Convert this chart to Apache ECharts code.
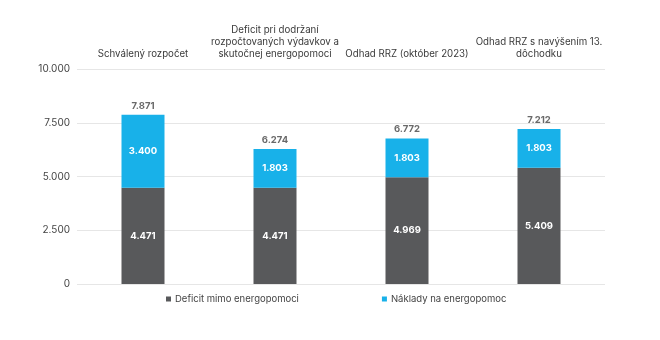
<!DOCTYPE html>
<html>
<head>
<meta charset="utf-8">
<script src="https://cdn.jsdelivr.net/npm/echarts@6/dist/echarts.min.js"></script>
<style>html,body{margin:0;padding:0;background:#fff}#c{width:660px;height:340px}</style>
</head>
<body>
<div id="c"></div>
<script>
var categories = [
  "Schválený rozpočet",
  "Deficit pri dodržaní\nrozpočtovaných výdavkov a\nskutočnej energopomoci",
  "Odhad RRZ (október 2023)",
  "Odhad RRZ s navýšením 13.\ndôchodku"
];
var deficit = [4471, 4471, 4969, 5409];
var energy = [3400, 1803, 1803, 1803];
var totals = [7871, 6274, 6772, 7212];
var yTicks = [0, 2500, 5000, 7500, 10000];

function fmt(v) {
  return String(Math.round(v)).replace(/\B(?=(\d{3})+(?!\d))/g, '.');
}
var FONT = 'Inter';
var chart = echarts.init(document.getElementById('c'));
chart.setOption({
  animation: false,
  textStyle: { fontFamily: FONT },
  grid: { left: 77, right: 55, top: 69, bottom: 56, containLabel: false },
  legend: {
    bottom: 31,
    left: 161,
    itemWidth: 5, itemHeight: 5, itemGap: 83,
    icon: 'rect',
    textStyle: { fontFamily: FONT, fontSize: 9.5, color: '#444', padding: [0, 0, 0, -1] },
    data: ['Deficit mimo energopomoci', 'Náklady na energopomoc']
  },
  xAxis: {
    type: 'category',
    position: 'top',
    data: categories,
    axisLine: { show: false },
    axisTick: { show: false },
    axisLabel: { fontFamily: FONT, fontSize: 9.7, color: '#3a3a3a', lineHeight: 12, margin: 9, interval: 0 }
  },
  yAxis: {
    type: 'value',
    min: 0, max: 10000, interval: 2500,
    axisLabel: { fontFamily: FONT, fontSize: 10, color: '#444', margin: 7,
      formatter: function (v) { return yTicks.indexOf(v) >= 0 ? fmt(v) : ''; } },
    splitLine: { lineStyle: { color: '#e6e6e6', width: 1 } },
    axisLine: { show: false }, axisTick: { show: false }
  },
  series: [
    {
      name: 'Deficit mimo energopomoci', type: 'bar', stack: 's', data: deficit,
      barWidth: 43,
      itemStyle: { color: '#58595b' },
      label: { show: true, position: 'inside', color: '#fff', fontSize: 9.5, fontWeight: 'bold', fontFamily: FONT, formatter: function (p) { return fmt(p.value); } }
    },
    {
      name: 'Náklady na energopomoc', type: 'bar', stack: 's', data: energy,
      barWidth: 43,
      itemStyle: { color: '#18b1e9' },
      label: { show: true, position: 'inside', color: '#fff', fontSize: 9.5, fontWeight: 'bold', fontFamily: FONT, formatter: function (p) { return fmt(p.value); } }
    },
    {
      name: 'Spolu', type: 'scatter', data: totals, symbolSize: 0,
      label: { show: true, position: 'top', distance: 4, color: '#444', fontSize: 9.5, fontWeight: 'bold', fontFamily: FONT, formatter: function (p) { return fmt(p.value); } },
      silent: true
    }
  ]
});
</script>
</body>
</html>
